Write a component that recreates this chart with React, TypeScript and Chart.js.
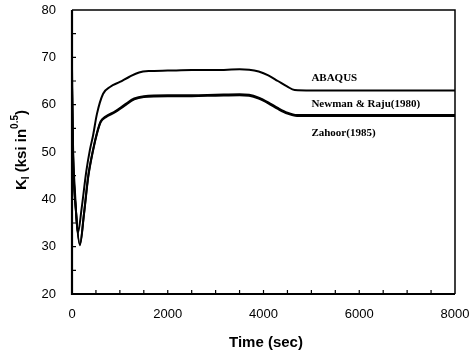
import React, { useEffect, useRef } from "react";
import { Chart, registerables } from "chart.js";

Chart.register(...registerables);

const abaqusTime = [0, 20, 60, 125, 200, 300, 375, 440, 520, 650, 800, 1000, 1200, 1400, 1600, 2000, 2500, 3000, 3500, 3700, 3900, 4100, 4300, 4500, 4650, 5000, 6000, 7000, 8000];
const abaqusK = [68, 52, 42, 33, 38, 46, 50.5, 53.5, 58, 62.3, 63.8, 64.8, 65.9, 66.8, 67.1, 67.2, 67.3, 67.3, 67.5, 67.4, 67, 66.2, 65, 63.8, 63.1, 63, 63, 63, 63];

const newmanTime = [0, 20, 80, 165, 250, 340, 440, 520, 600, 700, 900, 1100, 1300, 1500, 2000, 2500, 3000, 3500, 3700, 3900, 4100, 4300, 4500, 4700, 5000, 6000, 7000, 8000];
const newmanK = [64, 50, 38, 30.5, 37, 45, 50.5, 54, 56.5, 57.5, 58.6, 60, 61.3, 61.8, 62, 62, 62.1, 62.2, 62.1, 61.5, 60.5, 59.3, 58.3, 57.8, 57.8, 57.8, 57.8, 57.8];

const zahoorTime = [0, 20, 80, 165, 250, 340, 440, 520, 600, 700, 900, 1100, 1300, 1500, 2000, 2500, 3000, 3500, 3700, 3900, 4100, 4300, 4500, 4700, 5000, 6000, 7000, 8000];
const zahoorK = [63.8, 49.8, 37.8, 30.3, 36.8, 44.8, 50.3, 53.8, 56.3, 57.3, 58.4, 59.8, 61.1, 61.6, 61.8, 61.8, 61.9, 62, 61.9, 61.3, 60.3, 59.1, 58.1, 57.6, 57.6, 57.6, 57.6, 57.6];

const seriesLabels = ["ABAQUS", "Newman & Raju(1980)", "Zahoor(1985)"];
const labelAnchorTime = [5000, 5000, 5000];
const labelAnchorK = [65.7, 60.2, 54.0];

const xTicks = [0, 2000, 4000, 6000, 8000];
const yTicks = [20, 30, 40, 50, 60, 70, 80];

const toPts = (t: number[], k: number[]) => t.map((x, i) => ({ x, y: k[i] }));

export default function App() {
  const ref = useRef<HTMLCanvasElement>(null);
  useEffect(() => {
    const canvas = ref.current!;
    const decor = {
      id: "decor",
      afterDraw(chart: any) {
        const ctx = chart.ctx;
        const a = chart.chartArea;
        const xs = chart.scales.x;
        const ys = chart.scales.y;
        ctx.save();
        ctx.strokeStyle = "#000";
        ctx.lineWidth = 1.5;
        ctx.beginPath();
        ctx.moveTo(a.left, a.top);
        ctx.lineTo(a.right, a.top);
        ctx.lineTo(a.right, a.bottom);
        ctx.stroke();
        ctx.lineWidth = 2.2;
        ctx.beginPath();
        ctx.moveTo(a.left, a.top);
        ctx.lineTo(a.left, a.bottom);
        ctx.lineTo(a.right, a.bottom);
        ctx.stroke();
        ctx.lineWidth = 1.2;
        ctx.beginPath();
        for (let v = 25; v < 80; v += 5) {
          const y = ys.getPixelForValue(v);
          ctx.moveTo(a.left, y);
          ctx.lineTo(a.left + 4, y);
        }
        for (let v = 500; v < 8000; v += 500) {
          const x = xs.getPixelForValue(v);
          ctx.moveTo(x, a.bottom);
          ctx.lineTo(x, a.bottom - 4);
        }
        ctx.stroke();
        ctx.fillStyle = "#000";
        ctx.font = "bold 11px 'Liberation Serif', serif";
        ctx.textAlign = "left";
        ctx.textBaseline = "middle";
        seriesLabels.forEach((s, i) => {
          ctx.fillText(s, xs.getPixelForValue(labelAnchorTime[i]), ys.getPixelForValue(labelAnchorK[i]));
        });
        ctx.font = "bold 15px 'Liberation Sans', Arial, sans-serif";
        ctx.textAlign = "center";
        ctx.fillText("Time (sec)", 266, 343);
        ctx.translate(22, 150);
        ctx.rotate(-Math.PI / 2);
        const big = "bold 15px 'Liberation Sans', Arial, sans-serif";
        const small = "bold 10px 'Liberation Sans', Arial, sans-serif";
        const parts: [string, string, number][] = [
          ["K", big, 0],
          ["I", small, 4],
          [" (ksi in", big, 0],
          ["0.5", small, -7],
          [")", big, 0],
        ];
        let total = 0;
        parts.forEach(([t, f]) => {
          ctx.font = f;
          total += ctx.measureText(t).width;
        });
        let x = -total / 2;
        ctx.textAlign = "left";
        parts.forEach(([t, f, dy]) => {
          ctx.font = f;
          ctx.fillText(t, x, dy);
          x += ctx.measureText(t).width;
        });
        ctx.restore();
      },
    };
    const lineDs = (label: string, data: any, w: number) => ({
      label,
      data,
      borderColor: "#000",
      borderWidth: w,
      pointRadius: 0,
      fill: false,
      cubicInterpolationMode: "monotone" as const,
    });
    const chart = new Chart(canvas, {
      type: "line",
      data: {
        datasets: [
          lineDs("ABAQUS", toPts(abaqusTime, abaqusK), 2),
          lineDs("Newman & Raju(1980)", toPts(newmanTime, newmanK), 2),
          lineDs("Zahoor(1985)", toPts(zahoorTime, zahoorK), 2),
        ],
      },
      options: {
        responsive: false,
        animation: false,
        layout: { padding: { left: 0, top: 10, right: 16, bottom: 0 } },
        plugins: { legend: { display: false }, tooltip: { enabled: false } },
        scales: {
          x: {
            type: "linear",
            min: 0,
            max: 8000,
            afterBuildTicks: (s: any) => {
              s.ticks = xTicks.map((v) => ({ value: v }));
            },
            afterFit: (s: any) => {
              s.height = 64;
              s.paddingLeft = 0;
              s.paddingRight = 0;
            },
            grid: { display: false, drawTicks: false },
            border: { display: false },
            ticks: {
              color: "#000",
              padding: 13,
              maxRotation: 0,
              callback: (v: any) => String(v),
              font: { family: "'Liberation Sans', Arial, sans-serif", size: 13 },
            },
          },
          y: {
            min: 20,
            max: 80,
            afterBuildTicks: (s: any) => {
              s.ticks = yTicks.map((v) => ({ value: v }));
            },
            afterFit: (s: any) => {
              s.width = 72;
              s.paddingTop = 0;
              s.paddingBottom = 0;
            },
            grid: { display: false, drawTicks: false },
            border: { display: false },
            ticks: {
              color: "#000",
              padding: 16,
              callback: (v: any) => String(v),
              font: { family: "'Liberation Sans', Arial, sans-serif", size: 13 },
            },
          },
        },
      },
      plugins: [decor],
    });
    return () => chart.destroy();
  }, []);
  return (
    <div style={{ position: "absolute", left: 0, top: 0, width: 471, height: 358, background: "#fff" }}>
      <canvas ref={ref} width={471} height={358} />
    </div>
  );
}
